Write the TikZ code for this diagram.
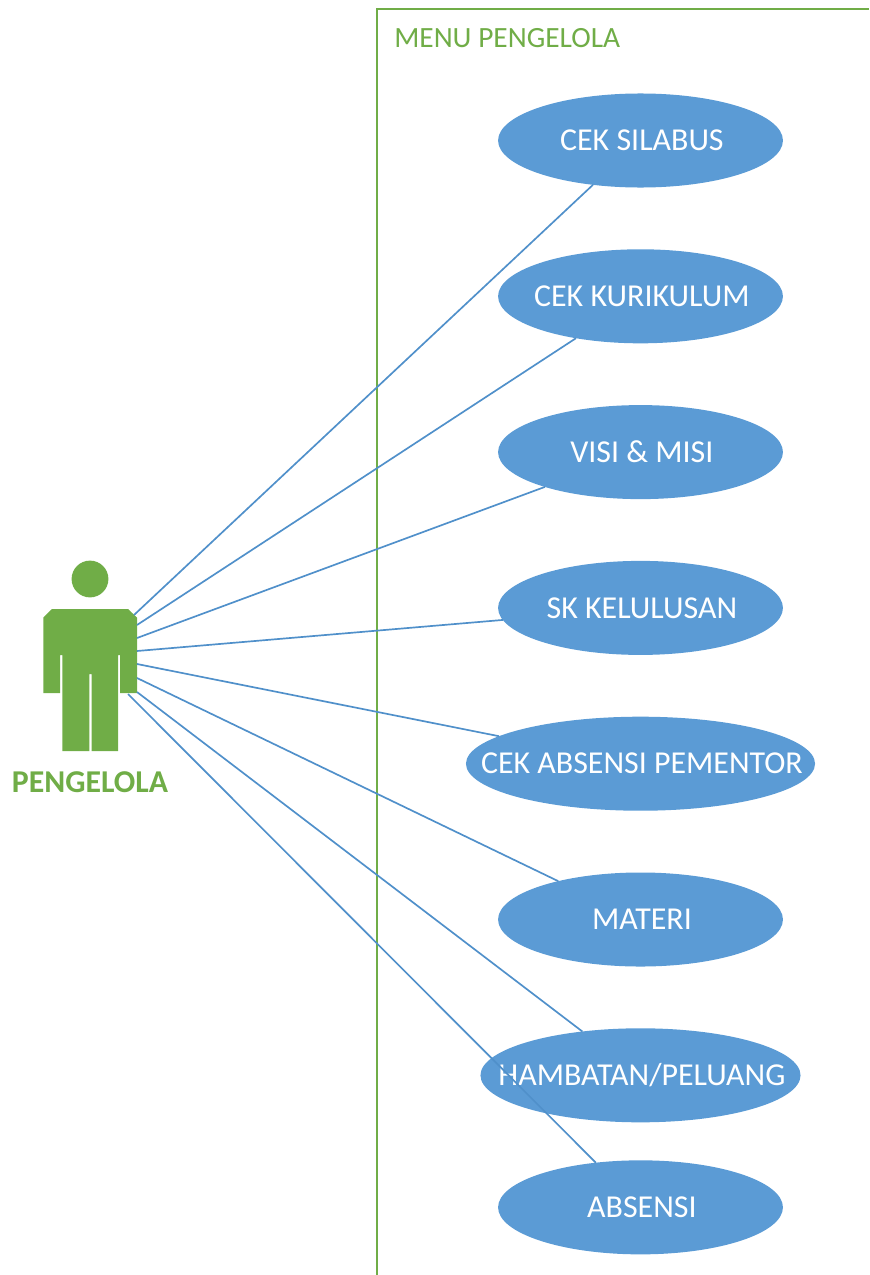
\documentclass[tikz,border=0pt]{standalone}
\usepackage{fontspec}
\setmainfont{Carlito}
\usepackage{xcolor}
\usetikzlibrary{positioning, shapes.geometric}
\definecolor{ucblue}{HTML}{5B9BD5}
\definecolor{linkblue}{HTML}{5090CA}
\definecolor{actgreen}{HTML}{70AD47}
\newcommand{\uclab}[1]{\makebox[0pt]{\hspace{0.07cm}#1}}

\begin{document}
\begin{tikzpicture}[x=0.025cm, y=-0.025cm, node distance=1.544cm, font=\fontsize{22.7}{27}\selectfont]
\tikzstyle{uc}=[ellipse, fill=ucblue, text=white, inner sep=0pt, outer sep=0pt, minimum width=7.12cm, minimum height=2.35cm]
\tikzstyle{link}=[draw=linkblue, line width=1.2pt]
\useasboundingbox (0,0) rectangle (869,1275);

\draw[actgreen, line width=1.6pt] (377,1275) |- (869,9);
\node[anchor=west, text=actgreen, inner sep=0pt, font=\fontsize{20.9}{25}\selectfont] (menu) at (394,38) {MENU PENGELOLA};

\node[uc] (silabus) at (640.5,140.5) {\uclab{CEK SILABUS}};
\node[uc, below=of silabus] (kurikulum) {\uclab{CEK KURIKULUM}};
\node[uc, below=of kurikulum] (visi) {\uclab{VISI \& MISI}};
\node[uc, below=of visi] (sk) {\uclab{SK KELULUSAN}};
\node[uc, below=of sk, minimum width=8.725cm] (pementor) {\uclab{CEK ABSENSI PEMENTOR}};
\node[uc, below=of pementor] (materi) {\uclab{MATERI}};
\node[uc, below=of materi, minimum width=8cm] (hambatan) {\uclab{HAMBATAN/PELUANG}};
\node[uc, below=0.95cm of hambatan] (absensi) {\uclab{ABSENSI}};

% actor
\node[circle, fill=actgreen, inner sep=0pt, minimum size=0.92cm] (head) at (90,579) {};
\fill[actgreen] (52,609) -- (128,609) -- (137,617.5) -- (137,693) -- (120,693) -- (120,655) -- (118,655)
  -- (118,751) -- (91.7,751) -- (91.7,674) -- (89.3,674) -- (89.3,751) -- (62.3,751) -- (62.3,655)
  -- (60,655) -- (60,693) -- (43.3,693) -- (43.3,617.5) -- cycle;
\node[text=actgreen, inner sep=0pt, font=\fontsize{22.6}{27}\selectfont\bfseries] (pengelola) at (90,782) {PENGELOLA};

\coordinate (a1) at (134,615);
\coordinate (a2) at (137,625);
\coordinate (a3) at (137,638);
\coordinate (a4) at (137,651);
\coordinate (a5) at (137,664);
\coordinate (a6) at (137,678);
\coordinate (a7) at (137,692);
\coordinate (a8) at (128,694);

\draw[link] (a1) -- (silabus.223.9);
\draw[link] (a2) -- (kurikulum.213.7);
\draw[link] (a3) -- (visi.200.6);
\draw[link] (a4) -- (sk.185);
\draw[link] (a5) -- (pementor.169.6);
\draw[link] (a6) -- (materi.155.8);
\draw[link] (a7) -- (hambatan.143.2);
\draw[link] (a8) -- (absensi.135.2);
\end{tikzpicture}
\end{document}
